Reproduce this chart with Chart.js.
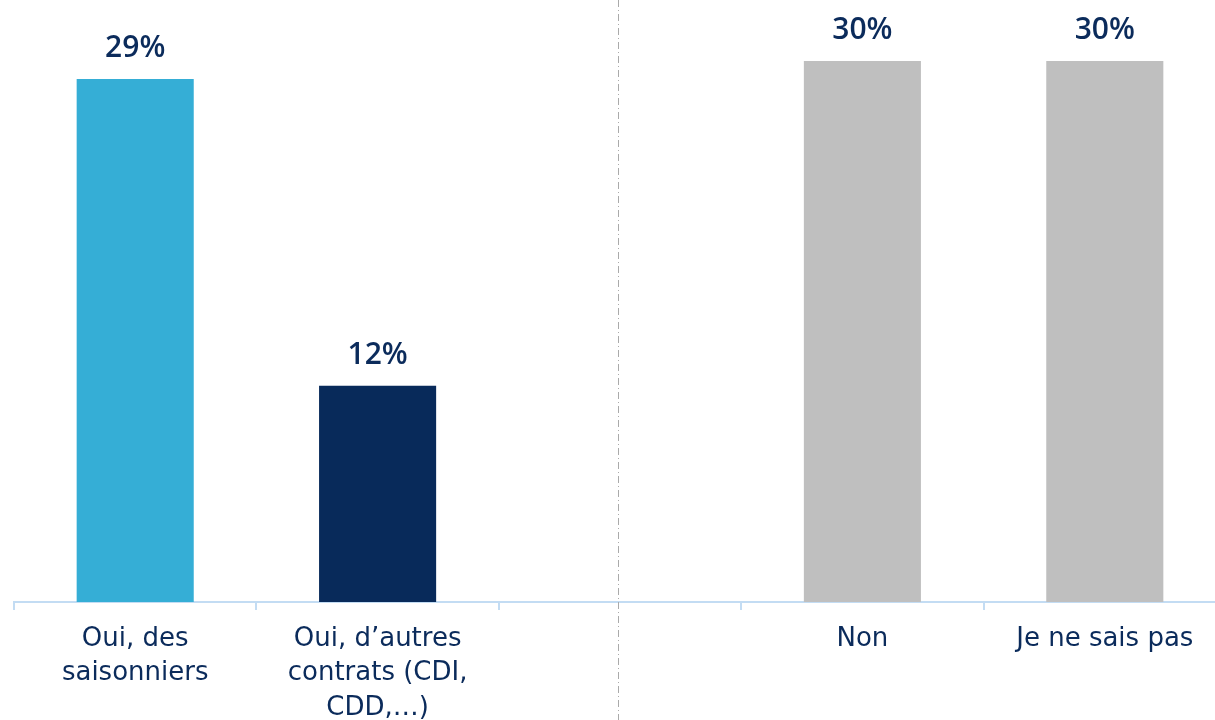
<!DOCTYPE html>
<html>
<head>
<meta charset="utf-8">
<script src="https://cdn.jsdelivr.net/npm/chart.js@4"></script>
<style>
  html, body { margin: 0; padding: 0; background: #fff; overflow: hidden; }
  #wrap { width: 1215px; height: 720px; overflow: hidden; }
  #box { width: 1226px; height: 720px; }
</style>
</head>
<body>
<div id="wrap"><div id="box"><canvas id="myChart"></canvas></div></div>
<script>
let categories = [
    ['Oui, des', 'saisonniers'],
    ['Oui, d\u2019autres', 'contrats (CDI,', 'CDD,\u2026)'],
    '',
    'Non',
    'Je ne sais pas'
]
let values = [29, 12, null, 30, 30]
let barColors = ['#35aed6', '#082a5a', '#ffffff', '#bfbfbf', '#bfbfbf']

let navy = '#0b2b5b'

// labels above the bars
let valueLabels = {
    id: 'valueLabels',
    afterDatasetsDraw(chart) {
        let c = chart.ctx
        let meta = chart.getDatasetMeta(0)
        c.save()
        c.fillStyle = navy
        c.font = '600 30px "Open Sans", sans-serif'
        c.textAlign = 'center'
        c.textBaseline = 'alphabetic'
        meta.data.forEach((bar, i) => {
            if (values[i] == null) return
            c.fillText(values[i] + '%', bar.x, bar.y - 22)
        })
        c.restore()
    }
}

// dash-dot separator in the empty slot
let separator = {
    id: 'separator',
    beforeDatasetsDraw(chart) {
        let c = chart.ctx
        let x = Math.round(chart.scales.x.getPixelForValue(2)) - 1.5
        c.save()
        c.strokeStyle = '#aaaaaa'
        c.lineWidth = 1
        c.setLineDash([7, 3, 1, 3])
        c.beginPath()
        c.moveTo(x, 0)
        c.lineTo(x, chart.height)
        c.stroke()
        c.restore()
    }
}

let ctx = document.querySelector('#myChart')

let graphData = {
    type: 'bar',
    data: {
        labels: categories,
        datasets: [{
            data: values,
            backgroundColor: barColors,
            barPercentage: 0.483,
            categoryPercentage: 1
        }]
    },
    options: {
        responsive: true,
        maintainAspectRatio: false,
        animation: false,
        layout: { padding: { top: 7, left: 14, right: 0, bottom: 0 } },
        plugins: {
            legend: { display: false },
            tooltip: { enabled: false }
        },
        scales: {
            x: {
                grid: {
                    display: true,
                    drawOnChartArea: false,
                    drawTicks: true,
                    tickLength: 8,
                    color: '#c3dcf3',
                    lineWidth: 2
                },
                border: { display: true, color: '#c3dcf3', width: 2 },
                ticks: {
                    color: navy,
                    padding: 12,
                    maxRotation: 0,
                    autoSkip: false,
                    font: { family: '"DejaVu Sans", sans-serif', size: 26, lineHeight: 1.32 }
                },
                afterFit(scale) { scale.height = 118 }
            },
            y: {
                display: false,
                min: 0,
                max: 33
            }
        }
    },
    plugins: [separator, valueLabels]
}

let myChart = new Chart(ctx, graphData)
</script>
</body>
</html>
